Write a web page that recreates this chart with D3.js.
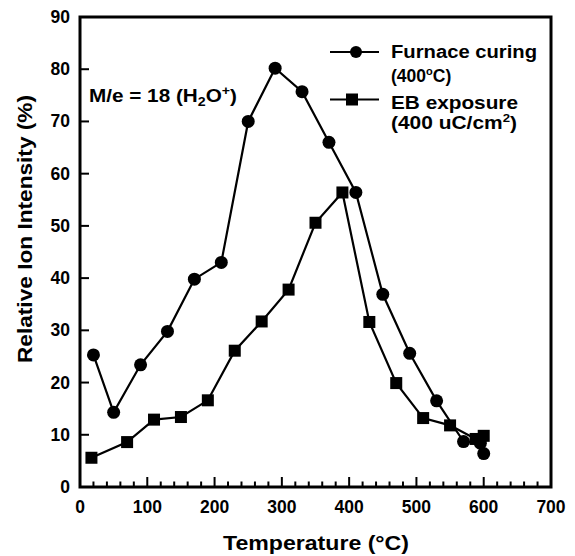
<!DOCTYPE html>
<html><head><meta charset="utf-8">
<script src="https://cdn.jsdelivr.net/npm/d3@7"></script>
<style>body{margin:0;background:#fff}svg{display:block;font-family:"Liberation Sans",Arial,sans-serif;font-weight:bold}</style>
</head><body><svg id="c" width="575" height="556"></svg>
<script>
const furnaceT = [20,50,90,130,170,210,250,290,330,370,410,450,490,530,570,595,600];
const furnaceV = [25.3,14.3,23.4,29.8,39.8,43.0,70.0,80.2,75.7,66.0,56.4,36.9,25.6,16.5,8.7,8.4,6.4];
const ebT = [17,70,110,150,190,230,270,310,350,390,430,470,510,550,588,600];
const ebV = [5.6,8.6,12.9,13.4,16.6,26.1,31.7,37.8,50.6,56.4,31.6,19.9,13.2,11.8,9.2,9.8];
const xTicks = [0,100,200,300,400,500,600,700];
const yTicks = [0,10,20,30,40,50,60,70,80,90];

const svg = d3.select("#c");
const L=80, R=551, T=17, B=487;
const x = d3.scaleLinear().domain([0,700]).range([L,R]);
const y = d3.scaleLinear().domain([0,90]).range([B,T]);

// frame
svg.append("rect").attr("x",L).attr("y",T).attr("width",R-L).attr("height",B-T)
  .attr("fill","none").attr("stroke","#000").attr("stroke-width",3);

// x axis ticks inward
const xMinor = d3.range(0,701,20);
svg.append("g").selectAll("line").data(xMinor).join("line")
  .attr("x1",d=>x(d)).attr("x2",d=>x(d)).attr("y1",B).attr("y2",d=>B-(d%100===0?10:5.5))
  .attr("stroke","#000").attr("stroke-width",2);
svg.append("g").selectAll("text").data(xTicks).join("text")
  .attr("x",d=>x(d)).attr("y",B+26).attr("text-anchor","middle").attr("font-size",17.5).text(d=>d);

// y ticks inward
svg.append("g").selectAll("line").data(yTicks).join("line")
  .attr("x1",L-1).attr("x2",L+9).attr("y1",d=>y(d)).attr("y2",d=>y(d))
  .attr("stroke","#000").attr("stroke-width",2);
svg.append("g").selectAll("text").data(yTicks).join("text")
  .attr("x",L-10).attr("y",d=>y(d)+6).attr("text-anchor","end").attr("font-size",17.5).text(d=>d);

// axis titles
svg.append("text").attr("x",316).attr("y",550).attr("text-anchor","middle").attr("font-size",21)
  .attr("textLength",186).attr("lengthAdjust","spacingAndGlyphs").text("Temperature (°C)");
svg.append("text").attr("transform","translate(32,229) rotate(-90)").attr("text-anchor","middle").attr("font-size",21)
  .attr("textLength",268).attr("lengthAdjust","spacingAndGlyphs").text("Relative Ion Intensity (%)");

const line = d3.line().x(d=>x(d[0])).y(d=>y(d[1]));
const fData = furnaceT.map((t,i)=>[t,furnaceV[i]]);
const eData = ebT.map((t,i)=>[t,ebV[i]]);

svg.append("path").attr("d",line(eData)).attr("fill","none").attr("stroke","#000").attr("stroke-width",2.2);
svg.append("path").attr("d",line(fData)).attr("fill","none").attr("stroke","#000").attr("stroke-width",2.2);
svg.append("g").selectAll("rect").data(eData).join("rect")
  .attr("x",d=>x(d[0])-6).attr("y",d=>y(d[1])-6).attr("width",12).attr("height",12).attr("fill","#000");
svg.append("g").selectAll("circle").data(fData).join("circle")
  .attr("cx",d=>x(d[0])).attr("cy",d=>y(d[1])).attr("r",6.5).attr("fill","#000");

// annotation
const ann = svg.append("text").attr("x",89).attr("y",102).attr("font-size",17.5)
  .attr("textLength",148).attr("lengthAdjust","spacingAndGlyphs");
ann.append("tspan").text("M/e = 18 (H");
ann.append("tspan").attr("font-size",12).attr("dy",4).text("2");
ann.append("tspan").attr("dy",-4).text("O");
ann.append("tspan").attr("font-size",12).attr("dy",-7).text("+");
ann.append("tspan").attr("dy",7).text(")");

// legend
svg.append("line").attr("x1",330).attr("x2",379).attr("y1",52).attr("y2",52).attr("stroke","#000").attr("stroke-width",2.2);
svg.append("circle").attr("cx",356).attr("cy",52).attr("r",6).attr("fill","#000");
svg.append("line").attr("x1",330).attr("x2",379).attr("y1",99.5).attr("y2",99.5).attr("stroke","#000").attr("stroke-width",2.2);
svg.append("rect").attr("x",346).attr("y",93.5).attr("width",12).attr("height",12).attr("fill","#000");
const fs=17.5;
svg.append("text").attr("x",391).attr("y",57.5).attr("font-size",fs)
  .attr("textLength",146).attr("lengthAdjust","spacingAndGlyphs").text("Furnace curing");
const t2 = svg.append("text").attr("x",391).attr("y",82).attr("font-size",fs);
t2.append("tspan").text("(400");
t2.append("tspan").attr("font-size",11).attr("dy",-7).text("o");
t2.append("tspan").attr("dy",7).text("C)");
svg.append("text").attr("x",391).attr("y",109).attr("font-size",fs)
  .attr("textLength",127).attr("lengthAdjust","spacingAndGlyphs").text("EB exposure");
const t4 = svg.append("text").attr("x",391).attr("y",128.5).attr("font-size",fs)
  .attr("textLength",126).attr("lengthAdjust","spacingAndGlyphs");
t4.append("tspan").text("(400 uC/cm");
t4.append("tspan").attr("font-size",11).attr("dy",-7).text("2");
t4.append("tspan").attr("dy",7).text(")");
</script></body></html>
